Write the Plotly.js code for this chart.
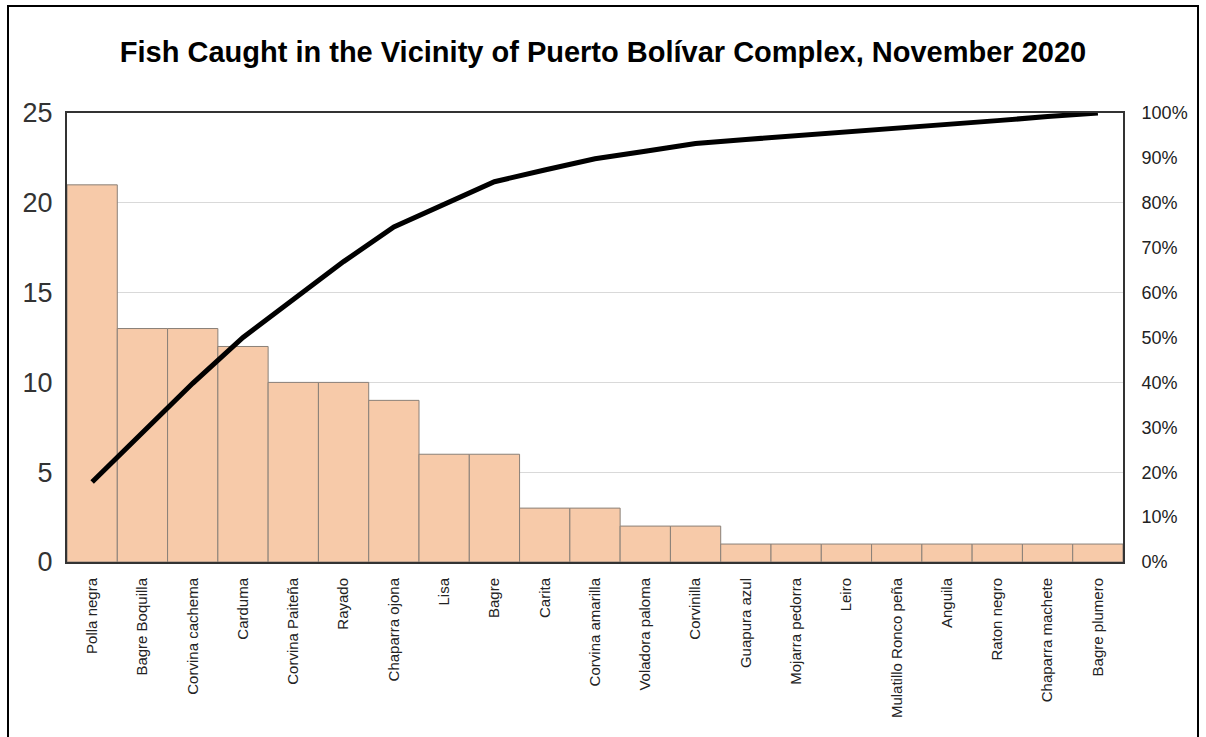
<!DOCTYPE html>
<html><head><meta charset="utf-8">
<script src="https://cdn.plot.ly/plotly-3.0.1.min.js"></script>
<style>
html,body{margin:0;padding:0;background:#fff;}
#wrap{position:relative;width:1206px;height:737px;overflow:hidden;}
#chart{width:1206px;height:737px;}
#frame{position:absolute;left:7px;top:5px;width:1188px;height:760px;border:2px solid #000;pointer-events:none;}
</style></head>
<body>
<div id="wrap"><div id="chart"></div><div id="frame"></div></div>
<script>
const categories = ["Polla negra","Bagre Boquilla","Corvina cachema","Carduma","Corvina Paiteña","Rayado","Chaparra ojona","Lisa","Bagre","Carita","Corvina amarilla","Voladora paloma","Corvinilla","Guapura azul","Mojarra pedorra","Leiro","Mulatillo Ronco peña","Anguila","Raton negro","Chaparra machete","Bagre plumero"];
const counts = [21,13,13,12,10,10,9,6,6,3,3,2,2,1,1,1,1,1,1,1,1];
const cumulativePct = [17.8,28.8,39.8,50.0,58.5,66.9,74.6,79.7,84.7,87.3,89.8,91.5,93.2,94.1,94.9,95.8,96.6,97.5,98.3,99.2,100];
const leftTicks = [0,5,10,15,20,25];
const rightTicks = [0,10,20,30,40,50,60,70,80,90,100];
const rightTickLabels = ["0%","10%","20%","30%","40%","50%","60%","70%","80%","90%","100%"];

const bars = {
  type:'bar', x:categories, y:counts,
  marker:{color:'#f7caa9', line:{color:'#8a8078', width:1}},
  hoverinfo:'x+y'
};
const line = {
  type:'scatter', mode:'lines', x:categories, y:cumulativePct, yaxis:'y2',
  line:{color:'#000', width:5}
};
const layout = {
  width:1206, height:737,
  margin:{l:67, r:83, t:113, b:175},
  paper_bgcolor:'#fff', plot_bgcolor:'#fff',
  showlegend:false, bargap:0,
  font:{family:'Liberation Sans, Arial, sans-serif', color:'#222'},
  title:{text:'<b>Fish Caught in the Vicinity of Puerto Bolívar Complex, November 2020</b>',
    font:{size:29, color:'#000', family:'Liberation Sans, Arial, sans-serif'},
    x:0.5, xanchor:'center', y:0.93, yanchor:'middle'},
  xaxis:{type:'category', tickangle:-90, tickfont:{size:15, color:'#222'},
    showline:true, mirror:true, linecolor:'#333', linewidth:2,
    ticks:'outside', ticklen:8, tickcolor:'rgba(0,0,0,0)', showgrid:false},
  yaxis:{range:[0,25], tickvals:leftTicks, tickfont:{size:27, color:'#333'},
    showline:true, mirror:true, linecolor:'#333', linewidth:2,
    gridcolor:'#d9d9d9', gridwidth:1, zeroline:false,
    ticks:'outside', ticklen:7, tickcolor:'rgba(0,0,0,0)'},
  yaxis2:{range:[0,100], overlaying:'y', side:'right', tickvals:rightTicks,
    ticktext:rightTickLabels, tickfont:{size:18, color:'#222'}, showgrid:false, zeroline:false,
    ticks:'outside', ticklen:14, tickcolor:'rgba(0,0,0,0)'}
};
Plotly.newPlot('chart',[bars,line],layout,{displayModeBar:false, staticPlot:true});
</script>
</body></html>
